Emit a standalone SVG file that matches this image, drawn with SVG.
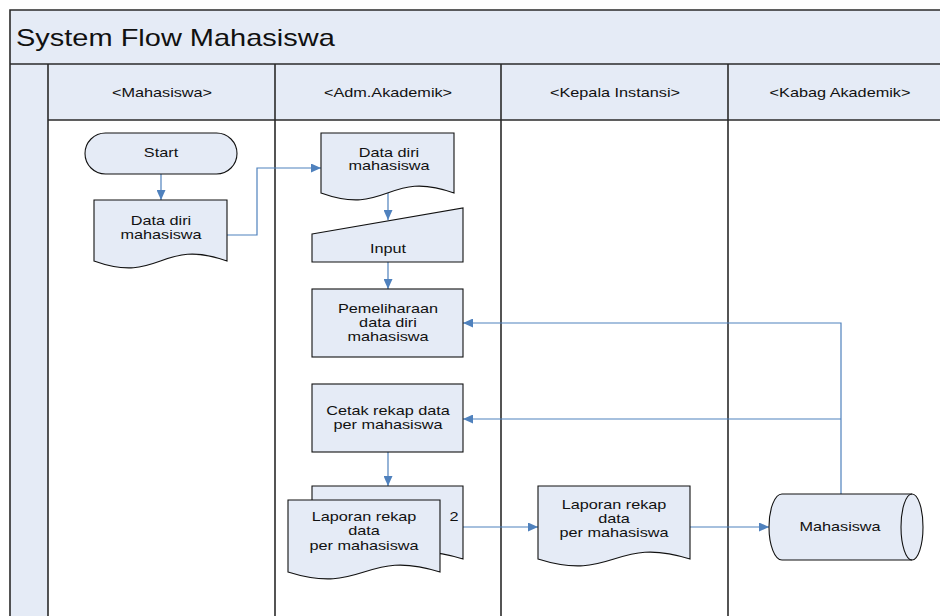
<svg xmlns="http://www.w3.org/2000/svg" width="940" height="616" viewBox="0 0 940 616">
  <defs>
    <style>
      .band { fill: #E5EBF6; }
      .frame { fill: none; stroke: #2b2b2b; stroke-width: 1.6; }
      .shape { fill: #E5EBF6; stroke: #111; stroke-width: 1.1; }
      .edge { fill: none; stroke: #111; stroke-width: 1.1; }
      .conn { fill: none; stroke: #4F81BD; stroke-width: 1.2; }
      .arrow { marker-end: url(#head); }
      .lbl { font-family: "Liberation Sans", Arial, sans-serif; font-size: 13px; fill: #111; text-anchor: middle; }
      .title { font-family: "Liberation Sans", Arial, sans-serif; font-size: 23px; fill: #111; }
    </style>
    <marker id="head" markerUnits="userSpaceOnUse" markerWidth="10" markerHeight="9" refX="10" refY="4.5" orient="auto">
      <path d="M0,0 L10,4.5 L0,9 Z" fill="#4F81BD"/>
    </marker>
  </defs>

  <!-- swimlane frame -->
  <g id="pool">
    <rect x="0" y="0" width="940" height="616" fill="#ffffff"/>
    <rect class="band" x="10" y="10" width="930" height="54"/>
    <rect class="band" x="10" y="64" width="38" height="552"/>
    <rect class="band" x="48" y="64" width="892" height="56"/>
    <path class="frame" d="M940,10 H10 V616 M10,64 H940 M48,120 H940 M48,64 V616 M275,64 V616 M501,64 V616 M728,64 V616"/>
    <text class="title" transform="translate(16,46) scale(1.26,1)">System Flow Mahasiswa</text>
    <text class="lbl" transform="translate(162,97) scale(1.25,1)">&lt;Mahasiswa&gt;</text>
    <text class="lbl" transform="translate(388,97) scale(1.25,1)">&lt;Adm.Akademik&gt;</text>
    <text class="lbl" transform="translate(615,97) scale(1.25,1)">&lt;Kepala Instansi&gt;</text>
    <text class="lbl" transform="translate(840,97) scale(1.25,1)">&lt;Kabag Akademik&gt;</text>
  </g>

  <!-- connectors -->
  <g id="connectors">
    <path class="conn arrow" d="M161,174 V200"/>
    <path class="conn arrow" d="M227,235 H257 V168 H321"/>
    <path class="conn arrow" d="M388,193 V220"/>
    <path class="conn arrow" d="M388,262 V289"/>
    <path class="conn arrow" d="M388,452 V486"/>
    <path class="conn arrow" d="M463,527 H538"/>
    <path class="conn arrow" d="M690,527 H769"/>
    <path class="conn arrow" d="M841,494 V323 H463"/>
    <path class="conn arrow" d="M841,419 H463"/>
  </g>

  <g id="start">
    <rect class="shape" x="85" y="133" width="152" height="41" rx="20.5"/>
    <text class="lbl" transform="translate(161,157) scale(1.25,1)">Start</text>
  </g>

  <g id="doc-mahasiswa">
    <path class="shape" d="M94,200 H227 V261 C160.5,237 160.5,285 94,261 Z"/>
    <text class="lbl" transform="translate(161,225) scale(1.25,1)"><tspan x="0">Data diri</tspan><tspan x="0" dy="14.3">mahasiswa</tspan></text>
  </g>

  <g id="doc-adm">
    <path class="shape" d="M321,133 H454 V193 C387.5,169 387.5,217 321,193 Z"/>
    <text class="lbl" transform="translate(389,156.5) scale(1.25,1)"><tspan x="0">Data diri</tspan><tspan x="0" dy="14">mahasiswa</tspan></text>
  </g>

  <g id="input">
    <path class="shape" d="M312,234 L463,208 V262 H312 Z"/>
    <text class="lbl" transform="translate(388,252.5) scale(1.25,1)">Input</text>
  </g>

  <g id="pemeliharaan">
    <rect class="shape" x="312" y="289" width="151" height="68"/>
    <text class="lbl" transform="translate(388,312.5) scale(1.25,1)"><tspan x="0">Pemeliharaan</tspan><tspan x="0" dy="14.5">data diri</tspan><tspan x="0" dy="14.5">mahasiswa</tspan></text>
  </g>

  <g id="cetak">
    <rect class="shape" x="312" y="384" width="151" height="68"/>
    <text class="lbl" transform="translate(388,415) scale(1.25,1)"><tspan x="0">Cetak rekap data</tspan><tspan x="0" dy="14.5">per mahasiswa</tspan></text>
  </g>

  <g id="laporan-copies">
    <path class="shape" d="M312,486 H463 V559 C387.5,535 387.5,583 312,559 Z"/>
    <path class="shape" d="M288,500 H440 V572 C364,548 364,596 288,572 Z"/>
    <text class="lbl" transform="translate(364,521) scale(1.25,1)"><tspan x="0">Laporan rekap</tspan><tspan x="0" dy="14.5">data</tspan><tspan x="0" dy="14.5">per mahasiswa</tspan></text>
    <text class="lbl" transform="translate(454,521) scale(1.25,1)">2</text>
  </g>

  <g id="laporan-kepala">
    <path class="shape" d="M538,486 H690 V559 C614,535 614,583 538,559 Z"/>
    <text class="lbl" transform="translate(614,508.5) scale(1.25,1)"><tspan x="0">Laporan rekap</tspan><tspan x="0" dy="14.3">data</tspan><tspan x="0" dy="14.3">per mahasiswa</tspan></text>
  </g>

  <g id="db-mahasiswa">
    <path class="shape" d="M782,494 H912 A11,33 0 0 1 912,560 H782 A13,33 0 0 1 782,494 Z"/>
    <path class="edge" d="M912,494 A11,33 0 0 0 912,560"/>
    <text class="lbl" transform="translate(840,531) scale(1.25,1)">Mahasiswa</text>
  </g>
</svg>
